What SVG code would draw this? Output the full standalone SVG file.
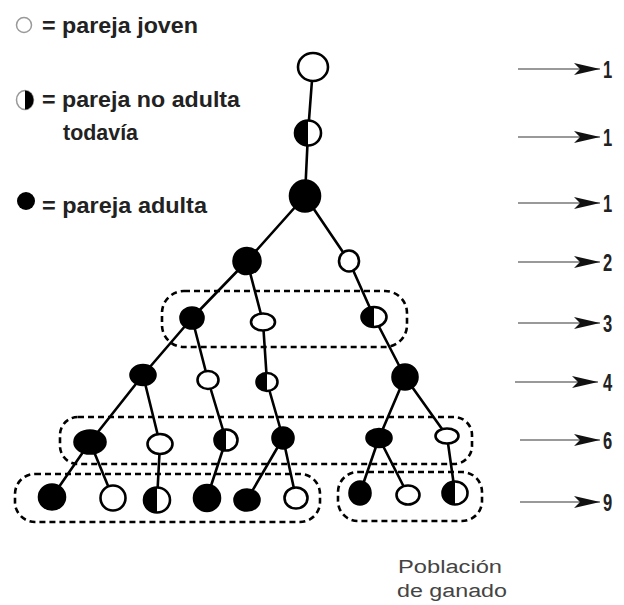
<svg xmlns="http://www.w3.org/2000/svg" width="624" height="605" viewBox="0 0 624 605">
<style>
.leg{font-family:"Liberation Sans",Arial,sans-serif;font-weight:bold;font-size:22px;fill:#222}
.num{font-family:"Liberation Sans",Arial,sans-serif;font-weight:bold;font-size:23px;fill:#222}
.cap{font-family:"Liberation Sans",Arial,sans-serif;font-size:18px;fill:#444}
.n{stroke:#000;stroke-width:2.6}
.open{fill:#fff}
.full{fill:#000}
.edge{stroke:#000;stroke-width:2.6;fill:none;stroke-linecap:round}
.grp{fill:none;stroke:#000;stroke-width:2.6;stroke-dasharray:6 4}
.arr{stroke:#777;stroke-width:1.6}
</style>
<defs>
<marker id="ah" viewBox="0 0 26 12" markerWidth="26" markerHeight="12" markerUnits="userSpaceOnUse" refX="26" refY="6" orient="auto">
<path d="M0,0 L26,6 L0,12 L6,6 Z" fill="#111"/>
</marker>
</defs>
<rect width="624" height="605" fill="#fff"/>

<g id="legend">
<circle cx="24" cy="25" r="7.5" fill="#fff" stroke="#999" stroke-width="1.5"/>
<text class="leg" x="42" y="33" textLength="156" lengthAdjust="spacingAndGlyphs">= pareja joven</text>
<ellipse cx="25" cy="100" rx="8.5" ry="9.5" fill="#fff" stroke="#999" stroke-width="1.5"/>
<path d="M25,90.5 A8.5,9.5 0 0 1 25,109.5 Z" fill="#000"/>
<text class="leg" x="42" y="107" textLength="198" lengthAdjust="spacingAndGlyphs">= pareja no adulta</text>
<text class="leg" x="63" y="140" textLength="75" lengthAdjust="spacingAndGlyphs">todavía</text>
<circle cx="26" cy="201" r="9" fill="#000"/>
<text class="leg" x="42" y="213" textLength="165" lengthAdjust="spacingAndGlyphs">= pareja adulta</text>
</g>

<g id="groups">
<rect class="grp" x="162" y="291" width="245" height="56" rx="22"/>
<rect class="grp" x="60" y="417" width="412" height="47" rx="18"/>
<rect class="grp" x="15" y="474" width="305" height="48" rx="20"/>
<rect class="grp" x="338" y="472" width="144" height="49" rx="20"/>
</g>

<g id="connectors">
<line class="edge" x1="313" y1="67" x2="308" y2="133"/>
<line class="edge" x1="308" y1="133" x2="305" y2="196"/>
<line class="edge" x1="305" y1="196" x2="247" y2="261"/>
<line class="edge" x1="305" y1="196" x2="349" y2="261"/>
<line class="edge" x1="247" y1="261" x2="192" y2="318"/>
<line class="edge" x1="247" y1="261" x2="263" y2="322"/>
<line class="edge" x1="349" y1="261" x2="374" y2="317"/>
<line class="edge" x1="192" y1="318" x2="143" y2="375"/>
<line class="edge" x1="192" y1="318" x2="208" y2="380"/>
<line class="edge" x1="263" y1="322" x2="267" y2="382"/>
<line class="edge" x1="374" y1="317" x2="405" y2="377"/>
<line class="edge" x1="143" y1="375" x2="90" y2="442"/>
<line class="edge" x1="143" y1="375" x2="160" y2="444"/>
<line class="edge" x1="208" y1="380" x2="226" y2="440"/>
<line class="edge" x1="267" y1="382" x2="283" y2="438"/>
<line class="edge" x1="405" y1="377" x2="379" y2="438"/>
<line class="edge" x1="405" y1="377" x2="447" y2="436"/>
<line class="edge" x1="90" y1="442" x2="52" y2="497"/>
<line class="edge" x1="90" y1="442" x2="113" y2="498"/>
<line class="edge" x1="160" y1="444" x2="157" y2="500"/>
<line class="edge" x1="226" y1="440" x2="207" y2="498"/>
<line class="edge" x1="283" y1="438" x2="247" y2="500"/>
<line class="edge" x1="283" y1="438" x2="296" y2="498"/>
<line class="edge" x1="379" y1="438" x2="360" y2="493"/>
<line class="edge" x1="379" y1="438" x2="408" y2="495"/>
<line class="edge" x1="447" y1="436" x2="455" y2="493"/>
</g>

<g id="n1"><ellipse class="n open" cx="313" cy="67" rx="15" ry="14"/></g>
<g id="n2"><ellipse class="n open" cx="308" cy="133" rx="13" ry="12.5"/><path d="M308,120.5 A13,12.5 0 0 0 308,145.5 Z" fill="#000"/></g>
<g id="n3"><ellipse class="n full" cx="305" cy="196" rx="15" ry="15.5"/></g>
<g id="n4"><ellipse class="n full" cx="247" cy="261" rx="13.5" ry="13"/></g>
<g id="n5"><ellipse class="n open" cx="349" cy="261" rx="10" ry="10.5"/></g>
<g id="n6"><ellipse class="n full" cx="192" cy="318" rx="11.5" ry="10.5"/></g>
<g id="n7"><ellipse class="n open" cx="263" cy="322" rx="12" ry="8.5"/></g>
<g id="n8"><ellipse class="n open" cx="374" cy="317" rx="12.5" ry="10"/><path d="M374,307 A12.5,10 0 0 0 374,327 Z" fill="#000"/></g>
<g id="n9"><ellipse class="n full" cx="143" cy="375" rx="12.5" ry="10"/></g>
<g id="n10"><ellipse class="n open" cx="208" cy="380" rx="10.5" ry="9"/></g>
<g id="n11"><ellipse class="n open" cx="267" cy="382" rx="10.5" ry="9"/><path d="M267,373 A10.5,9 0 0 0 267,391 Z" fill="#000"/></g>
<g id="n12"><ellipse class="n full" cx="405" cy="377" rx="12.5" ry="12.5"/></g>
<g id="n13"><ellipse class="n full" cx="90" cy="442" rx="15.5" ry="11.5"/></g>
<g id="n14"><ellipse class="n open" cx="160" cy="444" rx="12.5" ry="10"/></g>
<g id="n15"><ellipse class="n open" cx="226" cy="440" rx="11.5" ry="10.5"/><path d="M226,429.5 A11.5,10.5 0 0 0 226,450.5 Z" fill="#000"/></g>
<g id="n16"><ellipse class="n full" cx="283" cy="438" rx="10.5" ry="10.5"/></g>
<g id="n17"><ellipse class="n full" cx="379" cy="438" rx="12.5" ry="9"/></g>
<g id="n18"><ellipse class="n open" cx="447" cy="436" rx="11.5" ry="7.5"/></g>
<g id="n19"><ellipse class="n full" cx="52" cy="497" rx="13" ry="12.5"/></g>
<g id="n20"><ellipse class="n open" cx="113" cy="498" rx="12.5" ry="12.5"/></g>
<g id="n21"><ellipse class="n open" cx="157" cy="500" rx="13" ry="12.5"/><path d="M157,487.5 A13,12.5 0 0 0 157,512.5 Z" fill="#000"/></g>
<g id="n22"><ellipse class="n full" cx="207" cy="498" rx="13" ry="13"/></g>
<g id="n23"><ellipse class="n full" cx="247" cy="500" rx="12.5" ry="10.5"/></g>
<g id="n24"><ellipse class="n open" cx="296" cy="498" rx="11.5" ry="10.5"/></g>
<g id="n25"><ellipse class="n full" cx="360" cy="493" rx="10.5" ry="11.5"/></g>
<g id="n26"><ellipse class="n open" cx="408" cy="495" rx="11.5" ry="9.5"/></g>
<g id="n27"><ellipse class="n open" cx="455" cy="493" rx="12.5" ry="11.5"/><path d="M455,481.5 A12.5,11.5 0 0 0 455,504.5 Z" fill="#000"/></g>

<g id="counts">
<line class="arr" x1="518" y1="69" x2="600" y2="69" marker-end="url(#ah)"/>
<line class="arr" x1="518" y1="137" x2="600" y2="137" marker-end="url(#ah)"/>
<line class="arr" x1="518" y1="203" x2="600" y2="203" marker-end="url(#ah)"/>
<line class="arr" x1="518" y1="262" x2="600" y2="262" marker-end="url(#ah)"/>
<line class="arr" x1="518" y1="323" x2="600" y2="323" marker-end="url(#ah)"/>
<line class="arr" x1="515" y1="382" x2="598" y2="382" marker-end="url(#ah)"/>
<line class="arr" x1="520" y1="440" x2="600" y2="440" marker-end="url(#ah)"/>
<line class="arr" x1="520" y1="502" x2="600" y2="502" marker-end="url(#ah)"/>
<text class="num" transform="translate(603,78) scale(0.72,1)">1</text>
<text class="num" transform="translate(603,146) scale(0.72,1)">1</text>
<text class="num" transform="translate(603,212) scale(0.72,1)">1</text>
<text class="num" transform="translate(603,271) scale(0.72,1)">2</text>
<text class="num" transform="translate(603,332) scale(0.72,1)">3</text>
<text class="num" transform="translate(603,391) scale(0.72,1)">4</text>
<text class="num" transform="translate(603,449) scale(0.72,1)">6</text>
<text class="num" transform="translate(603,511) scale(0.72,1)">9</text>
</g>

<g id="caption">
<text class="cap" x="398" y="573" textLength="104" lengthAdjust="spacingAndGlyphs">Población</text>
<text class="cap" x="397" y="597" textLength="110" lengthAdjust="spacingAndGlyphs">de ganado</text>
</g>
</svg>
